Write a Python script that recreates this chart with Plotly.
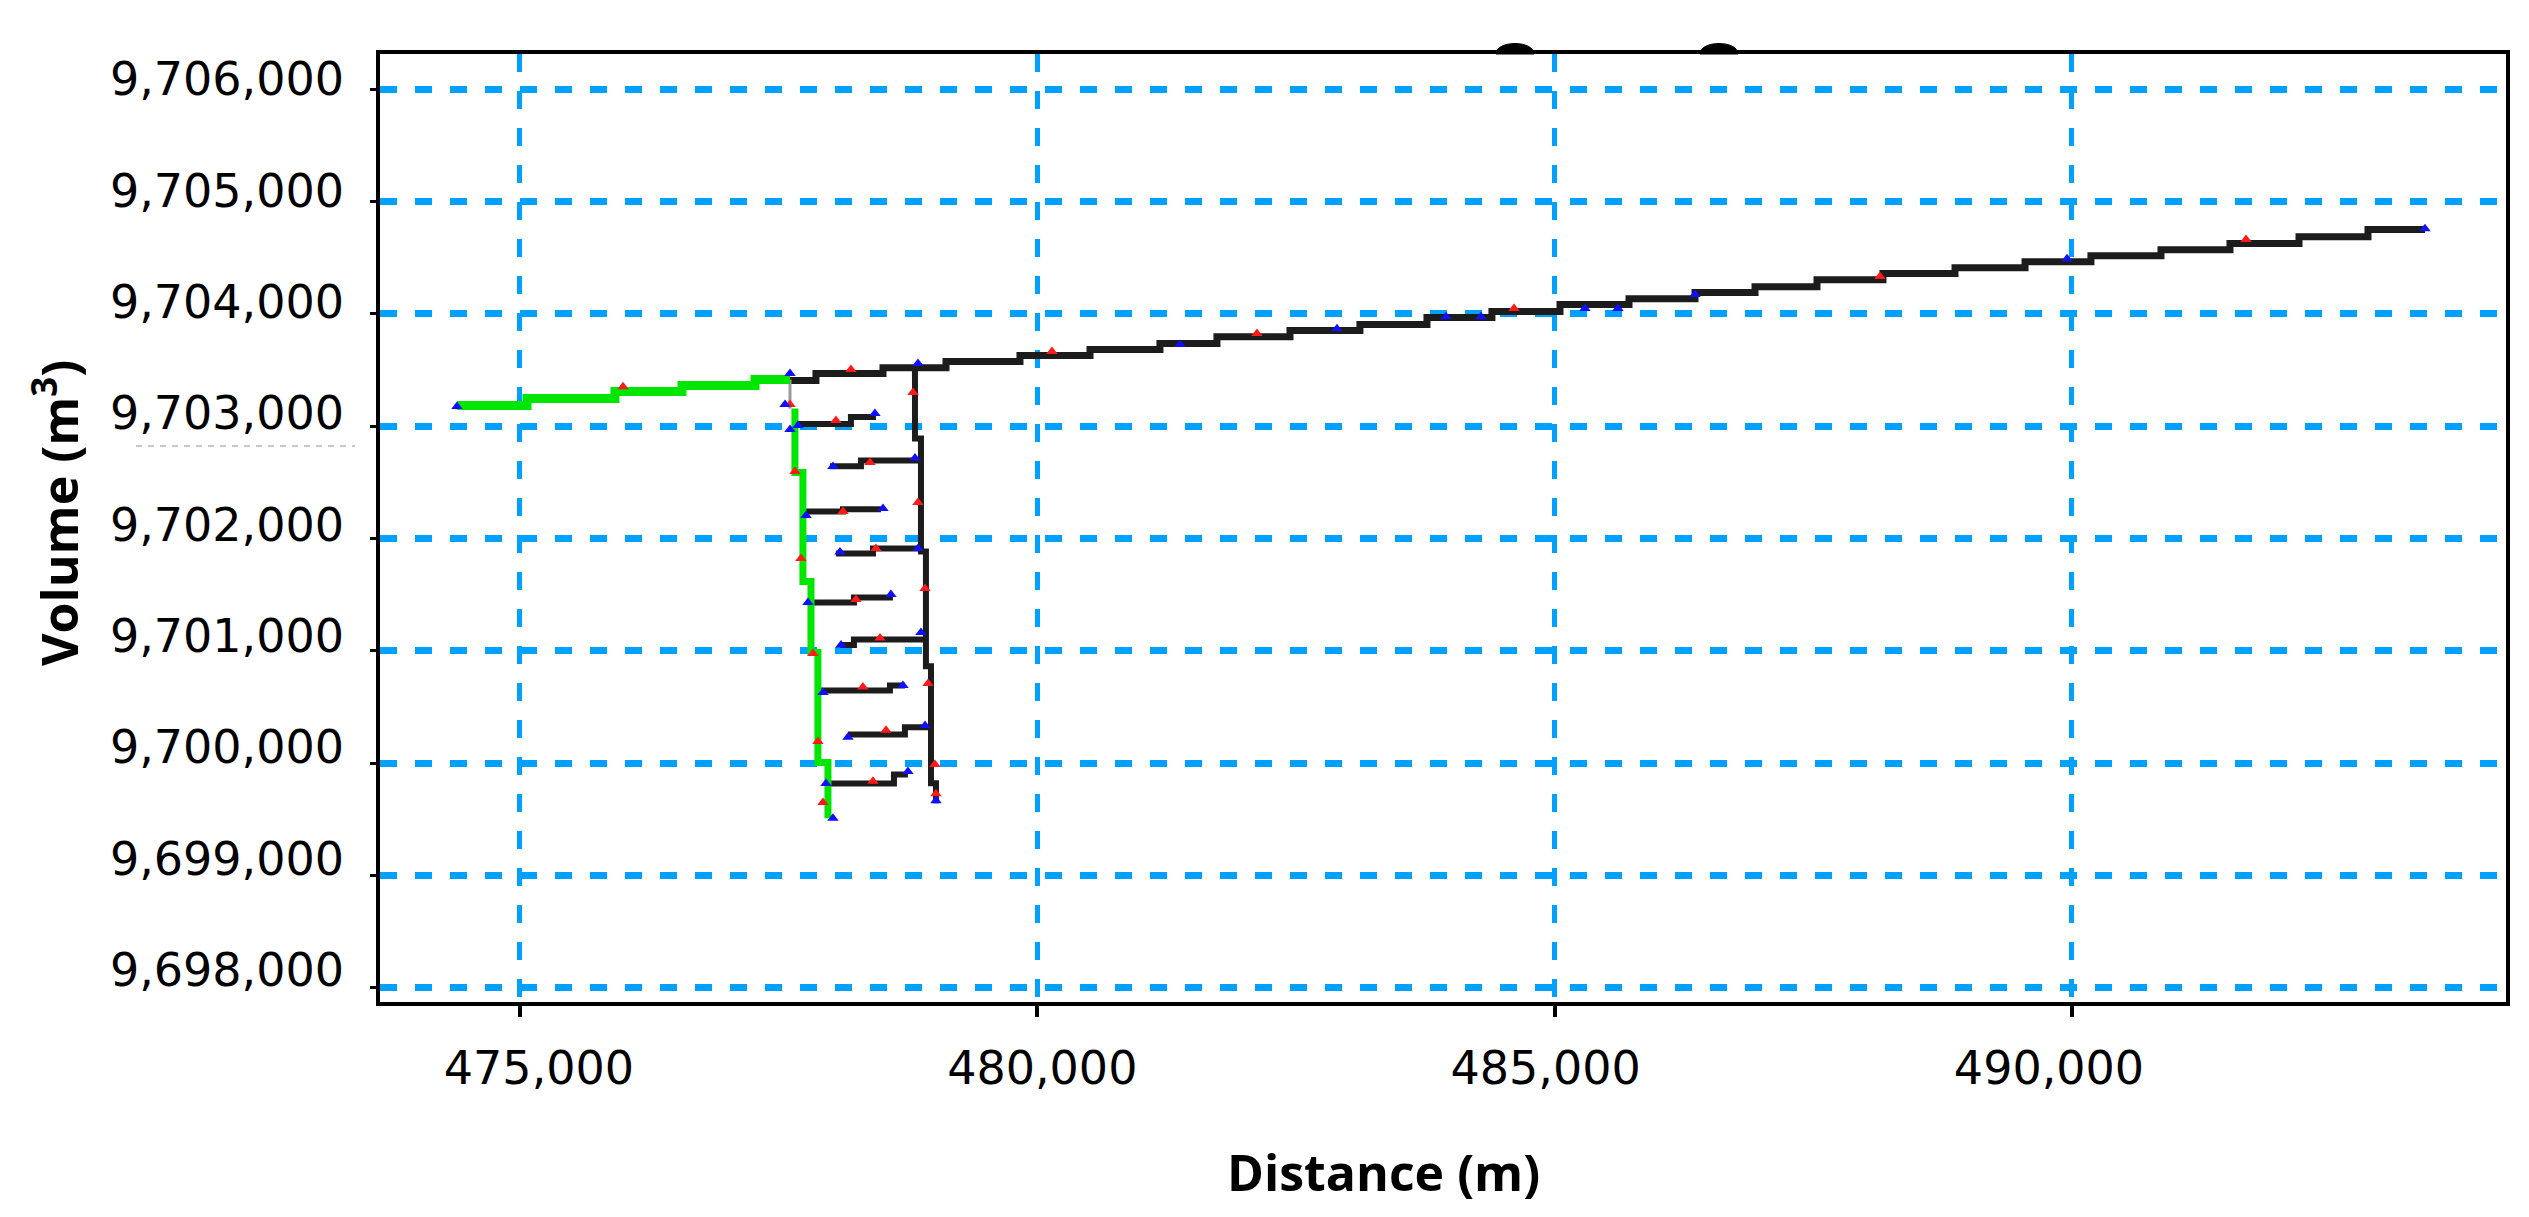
import plotly.graph_objects as go

# ---------------- data ----------------
x_ticks = [475000, 480000, 485000, 490000]
x_tick_text = ["475,000", "480,000", "485,000", "490,000"]
y_ticks = [9698000, 9699000, 9700000, 9701000, 9702000, 9703000, 9704000, 9705000, 9706000]
y_tick_text = ["9,698,000", "9,699,000", "9,700,000", "9,701,000", "9,702,000",
               "9,703,000", "9,704,000", "9,705,000", "9,706,000"]

# main (black) stepped line
main_x = [477610, 477861, 478509, 479118, 479833, 480510, 481186, 481737, 482443, 483119,
          483767, 484395, 485053, 485720, 486358, 486938, 487537, 488175, 488871, 489548,
          490185, 490862, 491529, 492196, 492863, 493414]
main_y = [9703405, 9703467, 9703520, 9703574, 9703627, 9703681, 9703734, 9703796, 9703850, 9703903,
          9703966, 9704019, 9704081, 9704134, 9704188, 9704241, 9704303, 9704357, 9704410, 9704463,
          9704517, 9704570, 9704624, 9704686, 9704749, 9704749]

# green stepped line (horizontal part)
green_x = [474391, 475068, 475918, 476566, 477272, 477610]
green_y = [9703182, 9703245, 9703307, 9703360, 9703414, 9703414]

# green descending part
green_drop_x = [477658, 477735, 477813, 477880, 477977, 477977]
green_drop_y = [9703156, 9702586, 9701617, 9700985, 9700006, 9699508]

# thin grey connector at the junction
conn_x = [477610, 477610]
conn_y = [9703414, 9703156]

# right black descending line
right_x = [478818, 478876, 478924, 478973, 479021, 479021]
right_y = [9703520, 9702889, 9701884, 9700861, 9699820, 9699642]

# ladder rungs: start x, step x, end x, lower level, upper level
rung_x0 = [477658, 477996, 477735, 478054, 477813, 478093, 477880, 478170, 477977]
rung_xs = [478199, 478296, 478122, 478412, 478228, 478228, 478576, 478721, 478615]
rung_x1 = [478441, 478876, 478489, 478876, 478605, 478924, 478721, 478973, 478750]
rung_y0 = [9703018, 9702643, 9702239, 9701866, 9701430, 9701051, 9700647, 9700255, 9699819]
rung_y1 = [9703080, 9702693, 9702260, 9701910, 9701474, 9701100, 9700691, 9700318, 9699899]

red_x = [475996, 478199, 480142, 482124, 484608, 488146, 491684, 477610, 478799, 478054,
         478383, 477658, 478122, 478847, 478441, 477716, 478248, 478915, 478480, 477832,
         478944, 478315, 477880, 478538, 479011, 478412, 477929, 479021]
red_y = [9703351, 9703503, 9703663, 9703823, 9704046, 9704331, 9704660, 9703191, 9703298, 9703049,
         9702675, 9702595, 9702239, 9702319, 9701910, 9701821, 9701456, 9701554, 9701114, 9700976,
         9700709, 9700678, 9700193, 9700291, 9699988, 9699837, 9699650, 9699726]

blue_x = [474391, 477610, 478847, 481380, 482897, 483951, 484289, 485294, 485613, 486358,
          489954, 493414, 477562, 477610, 477687, 478431, 478025, 478818, 477765, 478509,
          478093, 478847, 477784, 478586, 478103, 478876, 477929, 478702, 478170, 478915,
          477958, 478750, 479021, 478025]
blue_y = [9703173, 9703467, 9703556, 9703725, 9703867, 9703974, 9703974, 9704046, 9704046, 9704170,
          9704490, 9704757, 9703191, 9702969, 9703004, 9703111, 9702639, 9702715, 9702204, 9702266,
          9701879, 9701910, 9701430, 9701501, 9701051, 9701163, 9700629, 9700691, 9700229, 9700335,
          9699819, 9699926, 9699664, 9699508]

# ---------------- figure ----------------
W, H = 2529, 1217
ML, MR, MT, MB = 372, 31, 46, 223
GRID = "#00a0ff"
TICKFONT = dict(family="DejaVu Sans", size=46, color="black")
TITLEFONT = dict(family="Open Sans", size=50, color="black")

fig = go.Figure()

fig.add_trace(go.Scatter(x=main_x, y=main_y, mode="lines", line=dict(color="#1c1c1c", width=7, shape="hv"),
                         hoverinfo="skip", showlegend=False))

rx, ry = [], []
for a, s, b, l0, l1 in zip(rung_x0, rung_xs, rung_x1, rung_y0, rung_y1):
    rx += [a, s, b, None]
    ry += [l0, l1, l1, None]
fig.add_trace(go.Scatter(x=rx, y=ry, mode="lines", line=dict(color="#1c1c1c", width=6, shape="hv"),
                         connectgaps=False, hoverinfo="skip", showlegend=False))

fig.add_trace(go.Scatter(x=right_x, y=right_y, mode="lines", line=dict(color="#1c1c1c", width=6, shape="vh"),
                         hoverinfo="skip", showlegend=False))
fig.add_trace(go.Scatter(x=conn_x, y=conn_y, mode="lines", line=dict(color="#9a9a9a", width=3),
                         hoverinfo="skip", showlegend=False))
fig.add_trace(go.Scatter(x=green_x, y=green_y, mode="lines", line=dict(color="#00e600", width=9, shape="hv"),
                         hoverinfo="skip", showlegend=False))
fig.add_trace(go.Scatter(x=green_drop_x, y=green_drop_y, mode="lines",
                         line=dict(color="#00e600", width=7, shape="vh"),
                         hoverinfo="skip", showlegend=False))
fig.add_trace(go.Scatter(x=red_x, y=red_y, mode="markers",
                         marker=dict(symbol="triangle-up", size=10, color="#ff1a1a", line=dict(width=0)),
                         hoverinfo="skip", showlegend=False))
fig.add_trace(go.Scatter(x=blue_x, y=blue_y, mode="markers",
                         marker=dict(symbol="triangle-up", size=10, color="#1010ff", line=dict(width=0)),
                         hoverinfo="skip", showlegend=False))

# empty traces so that the label-only overlay axes are drawn
fig.add_trace(go.Scatter(x=[None], y=[None], xaxis="x2", yaxis="y", mode="markers",
                         hoverinfo="skip", showlegend=False))
fig.add_trace(go.Scatter(x=[None], y=[None], xaxis="x", yaxis="y2", mode="markers",
                         hoverinfo="skip", showlegend=False))

fig.update_layout(
    width=W, height=H,
    margin=dict(l=ML, r=MR, t=MT, b=MB, pad=0),
    paper_bgcolor="white", plot_bgcolor="white",
    showlegend=False,
    xaxis=dict(range=[473647, 494197], tickvals=x_ticks, showticklabels=False,
               showgrid=True, gridcolor=GRID, gridwidth=5, griddash="18px,19px",
               showline=True, linecolor="black", linewidth=4, mirror=True,
               ticks="outside", ticklen=11, tickwidth=4, tickcolor="black", zeroline=False),
    xaxis2=dict(overlaying="x", anchor="y", side="bottom", range=[473421, 494540],
                tickvals=x_ticks, ticktext=x_tick_text, tickfont=TICKFONT,
                showgrid=False, showline=False, zeroline=False, ticks="",
                ticklabelstandoff=35),
    yaxis=dict(range=[9697873, 9706312], tickvals=y_ticks, showticklabels=False,
               showgrid=True, gridcolor=GRID, gridwidth=7, griddash="17px,18px",
               showline=True, linecolor="black", linewidth=4, mirror=True,
               ticks="outside", ticklen=6, tickwidth=3, tickcolor="black", zeroline=False),
    yaxis2=dict(overlaying="y", anchor="x", side="left", range=[9697711, 9706228],
                tickvals=y_ticks, ticktext=y_tick_text, tickfont=TICKFONT,
                showgrid=False, showline=False, zeroline=False, ticks="",
                ticklabelstandoff=35),
)

pw, ph = W - ML - MR, H - MT - MB
def px(xp):
    return (xp - ML) / pw
def py(yp):
    return (H - MB - yp) / ph

fig.add_annotation(text="<b>Volume (m<sup>3</sup>)</b>", xref="paper", yref="paper",
                   x=px(48), y=py(505), xanchor="center", yanchor="middle",
                   textangle=-90, showarrow=False, font=TITLEFONT)
fig.add_annotation(text="<b>Distance (m)</b>", xref="paper", yref="paper",
                   x=px(1375), y=py(1164), xanchor="center", yanchor="middle",
                   showarrow=False, font=TITLEFONT)

# faint dashed artefact left of the axis and two small bumps on the top frame
fig.add_shape(type="line", xref="paper", yref="paper", x0=px(128), x1=px(347), y0=py(438), y1=py(438),
              line=dict(color="#c8c8c8", width=2, dash="6px,6px"))
for a, b in [(1488, 1526), (1692, 1730)]:
    x0, x1 = px(a), px(b)
    yb, yt = py(46), py(32)
    fig.add_shape(type="path", xref="paper", yref="paper",
                  path=f"M {x0},{yb} C {x0},{yt} {x1},{yt} {x1},{yb} Z",
                  fillcolor="black", line=dict(color="black", width=1))

fig.write_html("out.html")
